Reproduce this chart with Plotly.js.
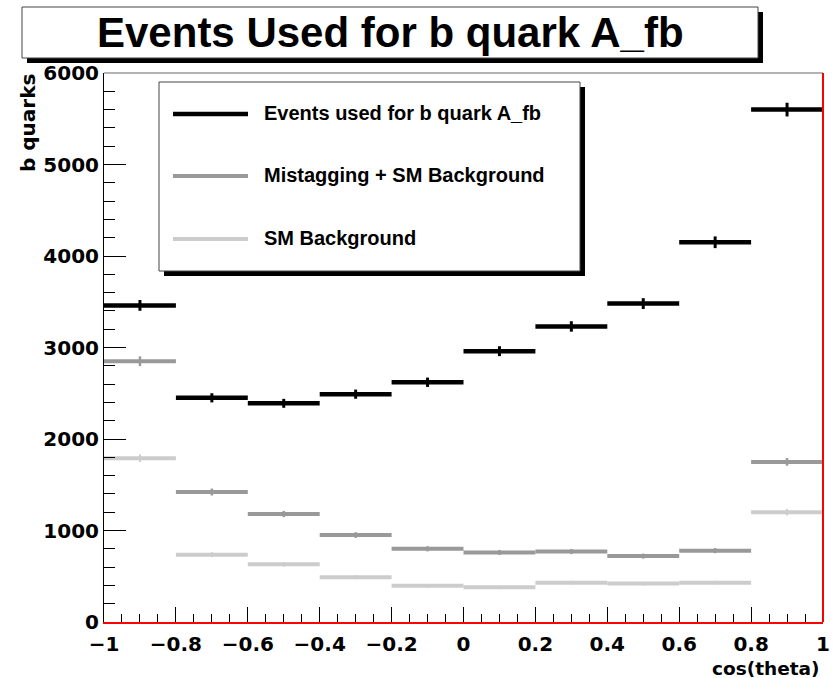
<!DOCTYPE html>
<html>
<head>
<meta charset="utf-8">
<script src="https://cdn.plot.ly/plotly-3.0.1.min.js"></script>
<style>html,body{margin:0;padding:0;background:#fff;}#chart{width:839px;height:678px;}</style>
</head>
<body>
<div id="chart"></div>
<script>
// ---- data ----
const binEdges = [-1, -0.8, -0.6, -0.4, -0.2, 0, 0.2, 0.4, 0.6, 0.8, 1];
const seriesNames = ["Events used for b quark A_fb", "Mistagging + SM Background", "SM Background"];
const eventsUsed = [3460, 2450, 2390, 2490, 2620, 2960, 3230, 3480, 4150, 5600];
const eventsUsedErr = [59, 50, 49, 50, 51, 54, 57, 59, 64, 75];
const mistagSM = [2850, 1420, 1180, 950, 800, 760, 770, 720, 780, 1750];
const mistagSMErr = [53, 38, 34, 31, 28, 28, 28, 27, 28, 42];
const smBackground = [1790, 735, 630, 490, 395, 380, 430, 420, 430, 1200];
const smBackgroundErr = [42, 27, 25, 22, 20, 20, 21, 20, 21, 35];
const xTitle = "cos(theta)";
const yTitle = "b quarks";
const chartTitle = "Events Used for b quark A_fb";

// ---- geometry helpers (layout only) ----
const W = 839, H = 678;
const L = 104, R = 823, T = 73, B = 622;
const px = x => (x - L) / (R - L);
const py = y => (B - y) / (B - T);

const centers = binEdges.slice(0, -1).map((e, i) => (e + binEdges[i + 1]) / 2);
const halfW = binEdges.slice(0, -1).map((e, i) => (binEdges[i + 1] - e) / 2);

function histTrace(name, y, err, color, hThick, vThick) {
  return {
    type: 'scatter', mode: 'markers', name: name,
    x: centers, y: y,
    marker: {size: 1, color: color},
    error_x: {type: 'data', array: halfW, symmetric: true, thickness: hThick, width: 0, color: color},
    error_y: {type: 'data', array: err, symmetric: true, thickness: vThick, width: 0, color: color},
    showlegend: false, cliponaxis: false
  };
}

const traces = [
  histTrace(seriesNames[2], smBackground, smBackgroundErr, '#cccccc', 4, 2),
  histTrace(seriesNames[1], mistagSM, mistagSMErr, '#999999', 4, 2.5),
  histTrace(seriesNames[0], eventsUsed, eventsUsedErr, '#000000', 4.5, 3)
];

const tickFont = {family: 'DejaVu Sans', size: 20, color: '#000', weight: 'bold'};
const legFont = {family: 'Liberation Sans, Arial', size: 20, color: '#000', weight: 'bold'};

const shapes = [
  // title box shadow + box
  {type: 'rect', xref: 'paper', yref: 'paper', x0: px(27), x1: px(763), y0: py(63), y1: py(12), fillcolor: '#000', line: {width: 0}, layer: 'below'},
  {type: 'rect', xref: 'paper', yref: 'paper', x0: px(22), x1: px(758), y0: py(58), y1: py(7), fillcolor: '#fff', line: {color: '#444', width: 1}, layer: 'below'},
  // legend box shadow + box
  {type: 'rect', xref: 'paper', yref: 'paper', x0: px(164), x1: px(585), y0: py(276), y1: py(87), fillcolor: '#000', line: {width: 0}, layer: 'above'},
  {type: 'rect', xref: 'paper', yref: 'paper', x0: px(159), x1: px(580), y0: py(271), y1: py(82), fillcolor: '#fff', line: {color: '#444', width: 1}, layer: 'above'},
  // legend lines
  {type: 'line', xref: 'paper', yref: 'paper', x0: px(173), x1: px(248), y0: py(114), y1: py(114), line: {color: '#000', width: 4.5}, layer: 'above'},
  {type: 'line', xref: 'paper', yref: 'paper', x0: px(173), x1: px(248), y0: py(176), y1: py(176), line: {color: '#999999', width: 4}, layer: 'above'},
  {type: 'line', xref: 'paper', yref: 'paper', x0: px(173), x1: px(248), y0: py(239), y1: py(239), line: {color: '#cccccc', width: 4}, layer: 'above'},
  // frame: top gray, right red
  {type: 'line', xref: 'paper', yref: 'paper', x0: 0, x1: 1, y0: 1, y1: 1, line: {color: '#666', width: 1}},
  {type: 'line', xref: 'paper', yref: 'paper', x0: 1, x1: 1, y0: 0, y1: 1, line: {color: '#ff0000', width: 2}}
];

const annotations = [
  {text: chartTitle, xref: 'paper', yref: 'paper', x: px(390), y: py(32), xanchor: 'center', yanchor: 'middle', showarrow: false,
   font: {family: 'Liberation Sans, Arial', size: 42, color: '#000', weight: 'bold'}},
  {text: seriesNames[0], xref: 'paper', yref: 'paper', x: px(262), y: py(113), xanchor: 'left', yanchor: 'middle', showarrow: false, font: legFont},
  {text: seriesNames[1], xref: 'paper', yref: 'paper', x: px(262), y: py(175), xanchor: 'left', yanchor: 'middle', showarrow: false, font: legFont},
  {text: seriesNames[2], xref: 'paper', yref: 'paper', x: px(262), y: py(238), xanchor: 'left', yanchor: 'middle', showarrow: false, font: legFont},
  {text: xTitle, xref: 'paper', yref: 'paper', x: px(821), y: py(657), xanchor: 'right', yanchor: 'top', showarrow: false, borderpad: 0,
   font: {family: 'DejaVu Sans', size: 18.5, color: '#000', weight: 'bold'}},
  {text: yTitle, xref: 'paper', yref: 'paper', x: px(28), y: py(72), xanchor: 'center', yanchor: 'top', textangle: -90, showarrow: false, font: tickFont}
];

const layout = {
  width: W, height: H,
  margin: {l: L, r: W - R, t: T, b: H - B, pad: 0},
  paper_bgcolor: '#fff', plot_bgcolor: '#fff',
  showlegend: false,
  xaxis: {
    range: [-1, 1], dtick: 0.2, tick0: -1, ticks: 'inside', ticklen: 15, tickwidth: 1, tickcolor: '#000',
    showgrid: false, zeroline: false, showline: true, linecolor: '#ff0000', linewidth: 1.5,
    tickfont: tickFont, ticklabelstandoff: 3,
    minor: {dtick: 0.05, tick0: -1, ticks: 'inside', ticklen: 8, tickwidth: 1, tickcolor: '#000', showgrid: false}
  },
  yaxis: {
    range: [0, 6000], dtick: 1000, tick0: 0, ticks: 'inside', ticklen: 22, tickwidth: 1, tickcolor: '#000',
    showgrid: false, zeroline: false, showline: true, linecolor: '#000', linewidth: 1,
    tickfont: tickFont,
    minor: {dtick: 200, tick0: 0, ticks: 'inside', ticklen: 11, tickwidth: 1, tickcolor: '#000', showgrid: false}
  },
  shapes: shapes,
  annotations: annotations
};

Plotly.newPlot('chart', traces, layout, {displayModeBar: false, staticPlot: true});
</script>
</body>
</html>
